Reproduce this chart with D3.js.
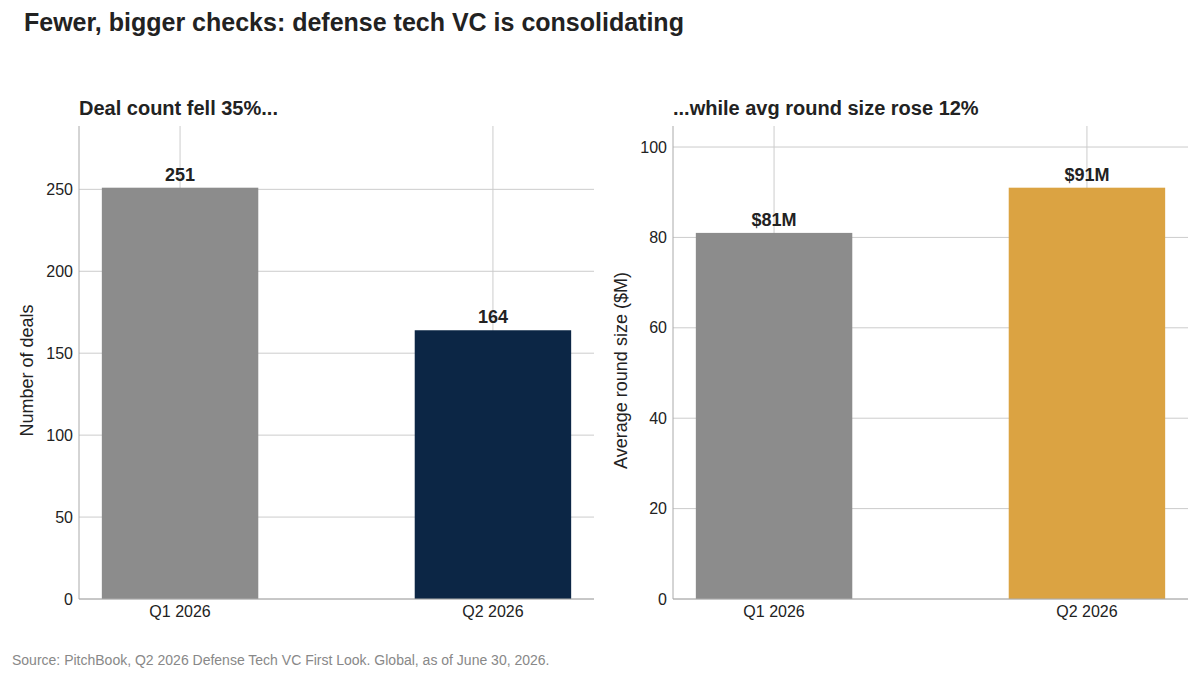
<!DOCTYPE html><html><head><meta charset="utf-8"><script src="https://d3js.org/d3.v7.min.js"></script>
<style>body{margin:0;background:#fff}text{font-family:"Liberation Sans",Arial,sans-serif;fill:#222}</style></head><body>
<svg id="c" width="1200" height="679"></svg>
<script>
const categories=["Q1 2026","Q2 2026"];
const dealCounts=[251,164];
const avgRound=[81,91];
const dealLabels=["251","164"];
const roundLabels=["$81M","$91M"];
const dealTicks=[0,50,100,150,200,250];
const roundTicks=[0,20,40,60,80,100];
const svg=d3.select("#c");
svg.append("text").attr("x",24).attr("y",31).attr("font-size",25).attr("font-weight","bold").text("Fewer, bigger checks: defense tech VC is consolidating");
svg.append("text").attr("x",12).attr("y",665).attr("font-size",14).style("fill","#888").text("Source: PitchBook, Q2 2026 Defense Tech VC First Look. Global, as of June 30, 2026.");
function panel(x0,x1,vals,labels,ticks,colors,title,ylab){
  const top=126,bot=599;
  const y=d3.scaleLinear().domain([0,d3.max(vals)*1.15]).range([bot,top]);
  const x=d3.scaleLinear().domain([-0.323,1.323]).range([x0,x1]);
  const g=svg.append("g");
  ticks.forEach(t=>{g.append("line").attr("x1",x0).attr("x2",x1).attr("y1",y(t)).attr("y2",y(t)).attr("stroke","#ccc");
    g.append("text").attr("x",x0-6).attr("y",y(t)).attr("dy","0.35em").attr("text-anchor","end").attr("font-size",16).text(t);});
  categories.forEach((c,i)=>{g.append("line").attr("x1",x(i)).attr("x2",x(i)).attr("y1",top).attr("y2",bot).attr("stroke","#ccc");
    g.append("text").attr("x",x(i)).attr("y",bot+18).attr("text-anchor","middle").attr("font-size",16).text(c);});
  vals.forEach((v,i)=>{g.append("rect").attr("x",x(i-0.25)).attr("width",x(0.25)-x(-0.25)).attr("y",y(v)).attr("height",bot-y(v)).attr("fill",colors[i]);
    g.append("text").attr("x",x(i)).attr("y",y(v)-7).attr("text-anchor","middle").attr("font-size",18).attr("font-weight","bold").text(labels[i]);});
  g.append("line").attr("x1",x0).attr("x2",x0).attr("y1",top).attr("y2",bot).attr("stroke","#aaa");
  g.append("line").attr("x1",x0).attr("x2",x1).attr("y1",bot).attr("y2",bot).attr("stroke","#aaa");
  g.append("text").attr("x",x0).attr("y",115).attr("font-size",20).attr("font-weight","bold").text(title);
  g.append("text").attr("transform",`translate(${x0-46},${(top+bot)/2+8}) rotate(-90)`).attr("text-anchor","middle").attr("font-size",18).text(ylab);
}
panel(79,594,dealCounts,dealLabels,dealTicks,["#8c8c8c","#0c2645"],"Deal count fell 35%...","Number of deals");
panel(673,1188,avgRound,roundLabels,roundTicks,["#8c8c8c","#dba342"],"...while avg round size rose 12%","Average round size ($M)");
</script></body></html>
